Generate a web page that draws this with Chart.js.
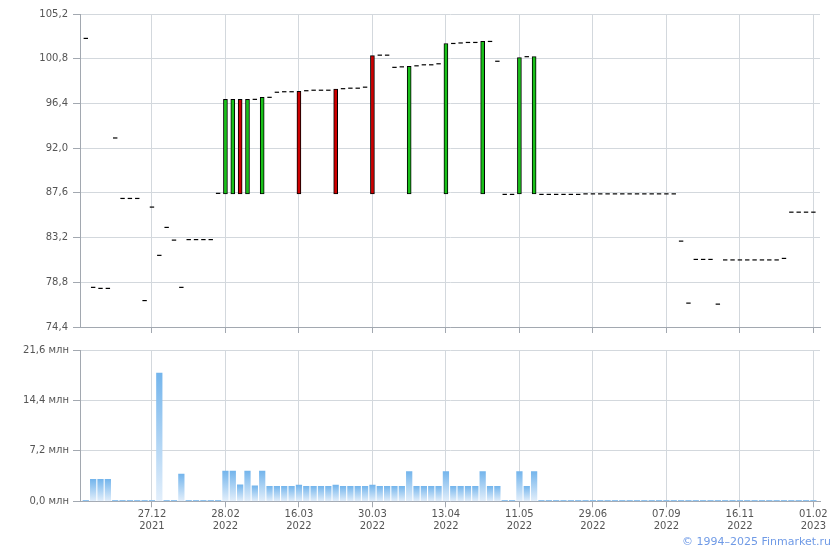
<!DOCTYPE html>
<html>
<head>
<meta charset="utf-8">
<script src="https://cdn.jsdelivr.net/npm/chart.js@4.4.0/dist/chart.umd.min.js"></script>
<style>
  body { margin: 0; background: #fff; width: 840px; height: 550px; position: relative; overflow: hidden; }
  #price-wrap { position: absolute; left: 0; top: 0; width: 840px; height: 340px; }
  #volume-wrap { position: absolute; left: 0; top: 340px; width: 840px; height: 200px; }
  #copyright { position: absolute; right: 9px; top: 535px; font: 11px Tahoma, 'DejaVu Sans', sans-serif; color: #6f9ae6; }
</style>
</head>
<body>
<div id="price-wrap"><canvas id="price-chart" width="840" height="340"></canvas></div>
<div id="volume-wrap"><canvas id="volume-chart" width="840" height="200"></canvas></div>
<div id="copyright">© 1994–2025 Finmarket.ru</div>
<script>
// --- Data (one entry per trading day, index 0..99) ---
const opens = [
  102.8, 78.3, 78.2, 78.2, 93.0, 87.05, 87.05, 87.05, 77.0, 86.2,
  81.45, 84.2, 82.95, 78.3, 83.0, 83.0, 83.0, 83.0, 87.55, 87.5,
  87.5, 96.8, 87.5, 96.8, 87.5, 97.0, 97.5, 97.55, 97.55, 97.6,
  97.65, 97.7, 97.7, 97.7, 97.8, 97.85, 97.9, 97.9, 98.0, 101.1,
  101.15, 101.15, 99.95, 100.0, 87.5, 100.1, 100.2, 100.2, 100.3, 87.5,
  102.3, 102.35, 102.4, 102.4, 87.5, 102.5, 100.55, 87.45, 87.45, 87.5,
  101.0, 87.5, 87.45, 87.45, 87.45, 87.45, 87.45, 87.45, 87.5, 87.5,
  87.5, 87.5, 87.5, 87.5, 87.5, 87.5, 87.5, 87.5, 87.5, 87.5,
  87.5, 82.85, 76.75, 81.05, 81.05, 81.05, 76.65, 81.0, 81.0, 81.0,
  81.0, 81.0, 81.0, 81.0, 81.0, 81.15, 85.7, 85.7, 85.7, 85.7
];
const closes = [
  102.8, 78.3, 78.2, 78.2, 93.0, 87.05, 87.05, 87.05, 77.0, 86.2,
  81.45, 84.2, 82.95, 78.3, 83.0, 83.0, 83.0, 83.0, 87.55, 96.8,
  96.8, 87.5, 96.8, 96.8, 97.0, 97.0, 97.5, 97.55, 97.55, 87.5,
  97.65, 97.7, 97.7, 97.7, 87.5, 97.85, 97.9, 97.9, 98.0, 87.5,
  101.15, 101.15, 99.95, 100.0, 100.05, 100.1, 100.2, 100.2, 100.3, 102.3,
  102.3, 102.35, 102.4, 102.4, 102.5, 102.5, 100.55, 87.45, 87.45, 100.9,
  101.0, 101.0, 87.45, 87.45, 87.45, 87.45, 87.45, 87.45, 87.5, 87.5,
  87.5, 87.5, 87.5, 87.5, 87.5, 87.5, 87.5, 87.5, 87.5, 87.5,
  87.5, 82.85, 76.75, 81.05, 81.05, 81.05, 76.65, 81.0, 81.0, 81.0,
  81.0, 81.0, 81.0, 81.0, 81.0, 81.15, 85.7, 85.7, 85.7, 85.7
];
// volume, millions
const volumes = [
  0.15, 3.13, 3.13, 3.13, 0.15, 0.15, 0.15, 0.15, 0.15, 0.15,
  18.3, 0.15, 0.15, 3.9, 0.15, 0.15, 0.15, 0.15, 0.15, 4.3,
  4.3, 2.35, 4.3, 2.2, 4.3, 2.15, 2.15, 2.15, 2.15, 2.3,
  2.15, 2.15, 2.15, 2.15, 2.3, 2.15, 2.15, 2.15, 2.15, 2.3,
  2.15, 2.15, 2.15, 2.15, 4.25, 2.15, 2.15, 2.15, 2.15, 4.25,
  2.15, 2.15, 2.15, 2.15, 4.25, 2.15, 2.15, 0.15, 0.15, 4.25,
  2.15, 4.25, 0.15, 0.15, 0.15, 0.15, 0.15, 0.15, 0.15, 0.15,
  0.15, 0.15, 0.15, 0.15, 0.15, 0.15, 0.15, 0.15, 0.15, 0.15,
  0.15, 0.15, 0.15, 0.15, 0.15, 0.15, 0.15, 0.15, 0.15, 0.15,
  0.15, 0.15, 0.15, 0.15, 0.15, 0.15, 0.15, 0.15, 0.15, 0.15
];
const tickIndex = [9, 19, 29, 39, 49, 59, 69, 79, 89, 99];
const tickDates = ['27.12', '28.02', '16.03', '30.03', '13.04', '11.05', '29.06', '07.09', '16.11', '01.02'];
const tickYears = ['2021', '2022', '2022', '2022', '2022', '2022', '2022', '2022', '2022', '2023'];
const priceTicks = [74.4, 78.8, 83.2, 87.6, 92.0, 96.4, 100.8, 105.2];
const volumeTicks = [0, 7.2, 14.4, 21.6];

// --- Styles ---
const GRID_COLOR = '#d3d8dd';
const AXIS_COLOR = '#a2a8b0';
const UP_COLOR = '#19c019';
const DOWN_COLOR = '#cc0000';
const X_MIN = -0.79;
const X_MAX = 99.9;

Chart.defaults.font.family = "Tahoma, 'DejaVu Sans', sans-serif";
Chart.defaults.font.size = 10;
Chart.defaults.color = '#555';

// --- Build datasets from the arrays ---
const candleBars = [];
const candleColors = [];
const flatDashes = [];
for (let i = 0; i < opens.length; i++) {
    if (opens[i] === closes[i]) {
        flatDashes.push({ x: i, y: closes[i] });
    } else {
        candleBars.push({ x: i, y: [opens[i], closes[i]] });
        candleColors.push(closes[i] > opens[i] ? UP_COLOR : DOWN_COLOR);
    }
}
const volumeBars = volumes.map((v, i) => ({ x: i, y: v }));

function fmtComma(v) { return v.toFixed(1).replace('.', ','); }

function xAxis(showLabels, height) {
    return {
        type: 'linear',
        min: X_MIN,
        max: X_MAX,
        offset: false,
        afterBuildTicks: (scale) => { scale.ticks = tickIndex.map(v => ({ value: v })); },
        afterFit: (scale) => { scale.height = height; },
        grid: { color: GRID_COLOR, tickColor: AXIS_COLOR, tickLength: 6, offset: false },
        border: { color: AXIS_COLOR },
        ticks: {
            display: showLabels,
            autoSkip: false,
            maxRotation: 0,
            padding: 1,
            callback: (value) => {
                const k = tickIndex.indexOf(value);
                return k < 0 ? '' : [tickDates[k], tickYears[k]];
            }
        }
    };
}

// --- Price chart ---
new Chart(document.getElementById('price-chart'), {
    type: 'bar',
    data: {
        datasets: [
            {
                type: 'bar',
                data: candleBars,
                backgroundColor: candleColors,
                borderColor: '#000',
                borderWidth: 1,
                borderSkipped: false,
                barThickness: 4,
                grouped: false
            },
            {
                type: 'scatter',
                data: flatDashes,
                pointStyle: 'line',
                pointRadius: 2.2,
                borderColor: '#000',
                borderWidth: 1.2
            }
        ]
    },
    options: {
        responsive: false,
        animation: false,
        events: [],
        layout: { padding: { top: 14, right: 20, left: 0, bottom: 0 } },
        plugins: { legend: { display: false }, tooltip: { enabled: false } },
        scales: {
            x: xAxis(false, 13),
            y: {
                min: 74.4,
                max: 105.2,
                afterBuildTicks: (scale) => { scale.ticks = priceTicks.map(v => ({ value: v })); },
                afterFit: (scale) => { scale.width = 80; },
                grid: { color: GRID_COLOR, tickColor: AXIS_COLOR, tickLength: 7 },
                border: { color: AXIS_COLOR },
                ticks: { padding: 5, callback: (v) => fmtComma(v) }
            }
        }
    }
});

// --- Volume chart ---
function volumeFill(ctx) {
    if (ctx.type !== 'data') return '#9ccbf2';
    const yScale = ctx.chart.scales.y;
    const top = yScale.getPixelForValue(ctx.parsed.y);
    const base = yScale.getPixelForValue(0);
    if (!isFinite(top) || !isFinite(base) || base - top < 1) return '#cfe3f7';
    const g = ctx.chart.ctx.createLinearGradient(0, top, 0, base);
    g.addColorStop(0, '#74b5ec');
    g.addColorStop(1, '#e3effb');
    return g;
}

new Chart(document.getElementById('volume-chart'), {
    type: 'bar',
    data: {
        datasets: [{
            data: volumeBars,
            backgroundColor: volumeFill,
            borderWidth: 0,
            barThickness: 5.6,
            grouped: false
        }]
    },
    options: {
        responsive: false,
        animation: false,
        events: [],
        layout: { padding: { top: 9.3, right: 20, left: 0, bottom: 0 } },
        plugins: { legend: { display: false }, tooltip: { enabled: false } },
        scales: {
            x: xAxis(true, 38.7),
            y: {
                min: 0,
                max: 21.6,
                afterBuildTicks: (scale) => { scale.ticks = volumeTicks.map(v => ({ value: v })); },
                afterFit: (scale) => { scale.width = 80; },
                grid: { color: GRID_COLOR, tickColor: AXIS_COLOR, tickLength: 7 },
                border: { color: AXIS_COLOR },
                ticks: { padding: 4, callback: (v) => fmtComma(v) + ' млн' }
            }
        }
    }
});
</script>
</body>
</html>
